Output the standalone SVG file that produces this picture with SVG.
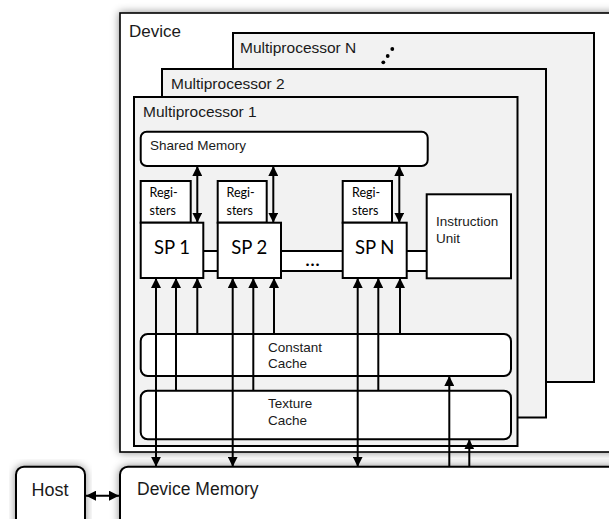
<svg xmlns="http://www.w3.org/2000/svg" width="609" height="519" viewBox="0 0 609 519">
<style>
.box{stroke:#000;stroke-width:2;fill:#fff}
.mp{stroke:#000;stroke-width:2;fill:#f2f2f2}
.t{font-family:"Liberation Sans",Arial,sans-serif;fill:#1a1a1a}
.c{font-family:Lato,"Open Sans",sans-serif;fill:#000}
.r{font-family:Lato,"Open Sans",sans-serif;fill:#000;font-size:12.5px}
.ln{stroke:#000;stroke-width:2;fill:none}
</style>
<defs>
<filter id="sh" x="-10%" y="-10%" width="120%" height="120%">
<feDropShadow dx="0" dy="0" stdDeviation="4" flood-color="#000" flood-opacity="0.45"/>
</filter>
<marker id="ah" viewBox="0 0 10 10" refX="10" refY="5" markerWidth="10" markerHeight="10" markerUnits="userSpaceOnUse" orient="auto-start-reverse">
<path d="M0,0 L10,5 L0,10 z" fill="#000"/>
</marker>
</defs>
<rect width="609" height="519" fill="#fff"/>

<g id="device">
<rect x="120" y="13" width="500" height="439" fill="#fff" stroke="#000" stroke-width="1.6" filter="url(#sh)"/>
<text class="t" x="129" y="37" font-size="17">Device</text>
</g>

<g id="mpN">
<rect class="mp" x="233" y="33" width="361" height="349"/>
<text class="t" x="240" y="53" font-size="15.5">Multiprocessor N</text>
<circle cx="383.3" cy="62.3" r="1.9" fill="#000"/>
<circle cx="387.7" cy="56" r="1.9" fill="#000"/>
<circle cx="392.3" cy="49" r="1.9" fill="#000"/>
</g>

<g id="mp2">
<rect class="mp" x="162" y="69" width="384" height="348.5"/>
<text class="t" x="171" y="89" font-size="15.5">Multiprocessor 2</text>
</g>

<g id="mp1">
<rect class="mp" x="134" y="97" width="383.5" height="349"/>
<text class="t" x="143" y="117" font-size="15.5">Multiprocessor 1</text>
</g>

<g id="shared-memory">
<rect class="box" x="140.7" y="131.7" width="287" height="34.3" rx="6"/>
<text class="t" x="150" y="150" font-size="13.5">Shared Memory</text>
</g>

<g id="interconnect">
<rect class="box" x="203" y="251" width="224" height="20"/>
<text class="c" x="313" y="265.5" font-size="17" font-weight="bold" text-anchor="middle" letter-spacing="1">...</text>
</g>

<g id="reg1">
<rect class="box" x="140.7" y="181" width="50" height="41.7"/>
<text class="r" x="149.5" y="196.5">Regi-</text>
<text class="r" x="149.5" y="214.5">sters</text>
</g>
<g id="reg2">
<rect class="box" x="217.7" y="181" width="49" height="41.7"/>
<text class="r" x="226.5" y="196.5">Regi-</text>
<text class="r" x="226.5" y="214.5">sters</text>
</g>
<g id="regN">
<rect class="box" x="342.7" y="181" width="49.3" height="41.7"/>
<text class="r" x="352" y="196.5">Regi-</text>
<text class="r" x="352" y="214.5">sters</text>
</g>

<g id="sp1">
<rect class="box" x="140.7" y="222.7" width="62.6" height="55.3"/>
<text class="c" x="172" y="253.5" font-size="18.5" text-anchor="middle">SP 1</text>
</g>
<g id="sp2">
<rect class="box" x="217.7" y="222.7" width="63.3" height="55.3"/>
<text class="c" x="249.3" y="253.5" font-size="18.5" text-anchor="middle">SP 2</text>
</g>
<g id="spN">
<rect class="box" x="342.7" y="222.7" width="64" height="55.3"/>
<text class="c" x="374.7" y="253.5" font-size="18.5" text-anchor="middle">SP N</text>
</g>

<g id="instruction-unit">
<rect class="box" x="426.7" y="194.3" width="84.3" height="84"/>
<text class="t" x="436" y="225.5" font-size="13.5">Instruction</text>
<text class="t" x="436" y="242.5" font-size="13.5">Unit</text>
</g>

<g id="constant-cache">
<rect class="box" x="140.7" y="334" width="370.3" height="42" rx="7"/>
<text class="t" x="268" y="352" font-size="13.5">Constant</text>
<text class="t" x="268" y="368" font-size="13.5">Cache</text>
</g>

<g id="texture-cache">
<rect class="box" x="140.7" y="390.7" width="370.3" height="48.6" rx="7"/>
<text class="t" x="268" y="407.5" font-size="13.5">Texture</text>
<text class="t" x="268" y="424.5" font-size="13.5">Cache</text>
</g>

<g id="host">
<rect class="box" x="16" y="466.7" width="69" height="70" rx="8" filter="url(#sh)"/>
<text class="t" x="31.5" y="496" font-size="18">Host</text>
</g>

<g id="device-memory">
<rect class="box" x="120" y="466.7" width="500" height="70" rx="8" filter="url(#sh)"/>
<text class="t" x="137" y="495" font-size="17.5">Device Memory</text>
</g>

<g id="connectors">
<line class="ln" x1="197.3" y1="166" x2="197.3" y2="222.7" marker-start="url(#ah)" marker-end="url(#ah)"/>
<line class="ln" x1="273.3" y1="166" x2="273.3" y2="222.7" marker-start="url(#ah)" marker-end="url(#ah)"/>
<line class="ln" x1="399.3" y1="166" x2="399.3" y2="222.7" marker-start="url(#ah)" marker-end="url(#ah)"/>

<line class="ln" x1="156" y1="466.7" x2="156" y2="278" marker-start="url(#ah)" marker-end="url(#ah)"/>
<line class="ln" x1="176" y1="390.7" x2="176" y2="278" marker-end="url(#ah)"/>
<line class="ln" x1="197.3" y1="334" x2="197.3" y2="278" marker-end="url(#ah)"/>

<line class="ln" x1="232.7" y1="466.7" x2="232.7" y2="278" marker-start="url(#ah)" marker-end="url(#ah)"/>
<line class="ln" x1="253.3" y1="390.7" x2="253.3" y2="278" marker-end="url(#ah)"/>
<line class="ln" x1="274" y1="334" x2="274" y2="278" marker-end="url(#ah)"/>

<line class="ln" x1="357.7" y1="466.7" x2="357.7" y2="278" marker-start="url(#ah)" marker-end="url(#ah)"/>
<line class="ln" x1="378.3" y1="390.7" x2="378.3" y2="278" marker-end="url(#ah)"/>
<line class="ln" x1="400" y1="334" x2="400" y2="278" marker-end="url(#ah)"/>

<line class="ln" x1="449.3" y1="466.7" x2="449.3" y2="376" marker-end="url(#ah)"/>
<line class="ln" x1="469.3" y1="466.7" x2="469.3" y2="439.3" marker-end="url(#ah)"/>

<line class="ln" x1="86" y1="495.7" x2="119" y2="495.7" marker-start="url(#ah)" marker-end="url(#ah)"/>
</g>
</svg>
